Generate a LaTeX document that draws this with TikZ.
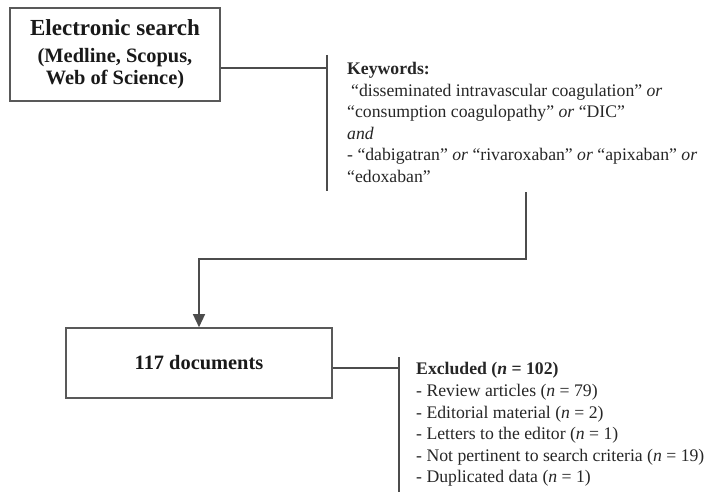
\documentclass[tikz,border=0pt]{standalone}
\usepackage{fontspec}
\setmainfont{Liberation Serif}
\usetikzlibrary{arrows.meta}

\begin{document}
\begin{tikzpicture}[x=1pt, y=-1pt,
    stage/.style={rectangle, draw=black!65, line width=1.6pt, inner sep=0pt, align=center, text=black!90, font=\bfseries\fontsize{20.4}{22}\selectfont},
    note/.style={rectangle, inner sep=0pt, anchor=north west, align=left, text=black!85, font=\fontsize{17.7}{21.6}\selectfont},
    link/.style={draw=black!70, line width=1.4pt}
]
    \useasboundingbox (0,0) rectangle (706,492);

    \node[stage, minimum width=210pt, minimum height=93pt] (search) at (115,54.5) {{\fontsize{23}{26}\selectfont Electronic search}\\[5pt](Medline, Scopus,\\Web of Science)};
    \node[stage, minimum width=266pt, minimum height=70pt] (docs) at (199,363) {117 documents};

    \node[note] (keywords) at (347,62) {\textbf{Keywords:}\\
        \hspace*{4pt}“disseminated intravascular coagulation” \textit{or}\\
        “consumption coagulopathy” \textit{or} “DIC”\\
        \textit{and}\\
        - “dabigatran” \textit{or} “rivaroxaban” \textit{or} “apixaban” \textit{or}\\
        “edoxaban”};
    \node[note] (excluded) at (416,362.5) {\textbf{Excluded (\textit{n} = 102)}\\
        - Review articles (\textit{n} = 79)\\
        - Editorial material (\textit{n} = 2)\\
        - Letters to the editor (\textit{n} = 1)\\
        - Not pertinent to search criteria (\textit{n} = 19)\\
        - Duplicated data (\textit{n} = 1)};

    \coordinate (kwjoin) at (327,68);
    \coordinate (kwtop) at (327,55);
    \coordinate (kwbot) at (327,191);
    \coordinate (flowstart) at (526,192);
    \coordinate (flowbend) at (526,259);
    \coordinate (exjoin) at (399,368);
    \coordinate (extop) at (399,357);
    \coordinate (exbot) at (399,492);

    \draw[link] (search.east |- kwjoin) -- (kwjoin);
    \draw[link] (kwtop) -- (kwbot);
    \draw[link, -{Triangle[width=12pt, length=13pt]}] (flowstart) -- (flowbend) -| (docs.north);
    \draw[link] (docs.east |- exjoin) -- (exjoin);
    \draw[link] (extop) -- (exbot);
\end{tikzpicture}
\end{document}
